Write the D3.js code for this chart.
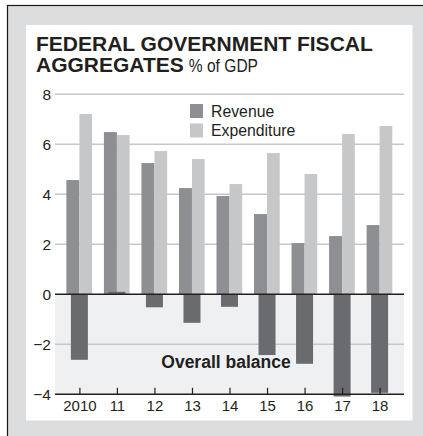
<!DOCTYPE html>
<html>
<head>
<meta charset="utf-8">
<script src="https://cdn.jsdelivr.net/npm/d3@7"></script>
<style>
  html, body { margin: 0; padding: 0; background: #fff; }
  svg { display: block; }
</style>
</head>
<body>
<svg id="chart" width="423" height="436"></svg>
<script>
// Federal government fiscal aggregates, % of GDP
const years = ["2010", "11", "12", "13", "14", "15", "16", "17", "18"];
const revenue = [4.57, 6.49, 5.25, 4.25, 3.93, 3.21, 2.05, 2.33, 2.77];
const expenditure = [7.21, 6.37, 5.73, 5.41, 4.41, 5.65, 4.81, 6.41, 6.73];
const balance = [-2.62, 0.1, -0.52, -1.14, -0.5, -2.43, -2.78, -4.09, -3.94];
const yTicks = [8, 6, 4, 2, 0, -2, -4];
const legendLabels = ["Revenue", "Expenditure"];

const colors = {
  frame: "#dcdddf",
  panel: "#ffffff",
  shade: "#eff0f2",
  grid: "#c6c7c9",
  axis: "#231f20",
  text: "#231f20",
  revenue: "#8e8f92",
  expenditure: "#c6c7c9",
  balance: "#6a6b6f"
};

const sans = "'Liberation Sans', Arial, Helvetica, sans-serif";

const svg = d3.select("#chart");

// condensed look: regular sans squeezed horizontally
function condensedText(parent, x, y, size, squeeze, str) {
  const g = parent.append("g").attr("transform", `translate(${x},${y}) scale(${squeeze},1)`);
  g.append("text")
    .attr("font-family", sans).attr("font-size", size)
    .attr("fill", colors.text).text(str);
  return g;
}

// Outer grey frame with a dark rule on the top and left
svg.append("rect")
  .attr("x", 7.5).attr("y", 5.5)
  .attr("width", 430).attr("height", 440)
  .attr("fill", colors.frame)
  .attr("stroke", "#1a1a1a").attr("stroke-width", 1.2);

// White panel
svg.append("rect")
  .attr("x", 26).attr("y", 25)
  .attr("width", 386.5).attr("height", 395.5)
  .attr("fill", colors.panel);

// Title
svg.append("text")
  .attr("x", 36).attr("y", 51)
  .attr("font-family", sans).attr("font-weight", "bold")
  .attr("font-size", 21).attr("fill", colors.text)
  .text("FEDERAL GOVERNMENT FISCAL");
const agg = svg.append("text")
  .attr("x", 36).attr("y", 72)
  .attr("font-family", sans).attr("font-weight", "bold")
  .attr("font-size", 21).attr("fill", colors.text)
  .text("AGGREGATES");
const aggWidth = agg.node().getComputedTextLength();
condensedText(svg, 36 + aggWidth + 5, 72, 19, 0.82, "% of GDP");

// Scales
const left = 55, right = 404;
const x = d3.scalePoint().domain(years).range([left, right]).padding(0.65);
const y = d3.scaleLinear().domain([-4, 8]).range([394.3, 94.3]);

// Shaded band for the negative range
svg.append("rect")
  .attr("x", left).attr("y", y(0))
  .attr("width", right - left).attr("height", y(-4) - y(0))
  .attr("fill", colors.shade);

// Gridlines
svg.append("g")
  .selectAll("line")
  .data(yTicks.filter(d => d !== 0 && d !== -4))
  .join("line")
  .attr("x1", left).attr("x2", right)
  .attr("y1", d => y(d)).attr("y2", d => y(d))
  .attr("stroke", colors.grid).attr("stroke-width", 1.4);

// Y-axis labels
const yAxis = d3.axisLeft(y).tickValues(yTicks).tickSize(0).tickPadding(0)
  .tickFormat(d => d < 0 ? "\u2212" + Math.abs(d) : String(d));
const yg = svg.append("g").attr("transform", `translate(${left - 4},0)`).call(yAxis);
yg.select(".domain").remove();
yg.selectAll("text")
  .attr("font-family", sans).attr("font-size", 15.5)
  .attr("fill", colors.text).attr("dy", "0.36em");

// Revenue and expenditure bars
const rw = 13, ew = 12.7, bw = 17;
svg.append("g").selectAll("rect")
  .data(years.map((yr, i) => ({ yr, v: revenue[i] })))
  .join("rect")
  .attr("x", d => x(d.yr) - rw).attr("width", rw)
  .attr("y", d => y(d.v)).attr("height", d => y(0) - y(d.v))
  .attr("fill", colors.revenue);

svg.append("g").selectAll("rect")
  .data(years.map((yr, i) => ({ yr, v: expenditure[i] })))
  .join("rect")
  .attr("x", d => x(d.yr)).attr("width", ew)
  .attr("y", d => y(d.v)).attr("height", d => y(0) - y(d.v))
  .attr("fill", colors.expenditure);

// Overall balance bars
svg.append("g").selectAll("rect")
  .data(years.map((yr, i) => ({ yr, v: balance[i] })))
  .join("rect")
  .attr("x", d => x(d.yr) - bw / 2).attr("width", bw)
  .attr("y", d => y(Math.max(0, d.v)))
  .attr("height", d => Math.abs(y(d.v) - y(0)))
  .attr("fill", colors.balance);

// Zero line
svg.append("line")
  .attr("x1", left).attr("x2", right)
  .attr("y1", y(0)).attr("y2", y(0))
  .attr("stroke", colors.axis).attr("stroke-width", 1.5);

// Bottom axis with upward ticks
const xAxis = d3.axisBottom(x).tickSize(0).tickPadding(0);
const xg = svg.append("g").attr("transform", `translate(0,${y(-4)})`).call(xAxis);
xg.select(".domain").remove();
xg.append("line")
  .attr("x1", left).attr("x2", right)
  .attr("stroke", colors.axis).attr("stroke-width", 1.5);
xg.selectAll(".tick").append("line")
  .attr("y1", 0).attr("y2", -6.5)
  .attr("stroke", colors.axis).attr("stroke-width", 1.2);
xg.selectAll("text")
  .attr("font-family", sans).attr("font-size", 15)
  .attr("fill", colors.text).attr("y", 16.5).attr("dy", 0);

// Legend
const legendColors = [colors.revenue, colors.expenditure];
const lg = svg.append("g");
legendLabels.forEach((lab, i) => {
  lg.append("rect")
    .attr("x", 190).attr("y", 104 + i * 19.5)
    .attr("width", 13).attr("height", 14)
    .attr("fill", legendColors[i]);
  condensedText(lg, 211, 116.5 + i * 19.5, 17, 0.93, lab);
});

// Balance label
svg.append("text")
  .attr("x", 226).attr("y", 368)
  .attr("text-anchor", "middle")
  .attr("font-family", sans).attr("font-weight", "bold")
  .attr("font-size", 17.5).attr("fill", colors.text)
  .text("Overall balance");
</script>
</body>
</html>
